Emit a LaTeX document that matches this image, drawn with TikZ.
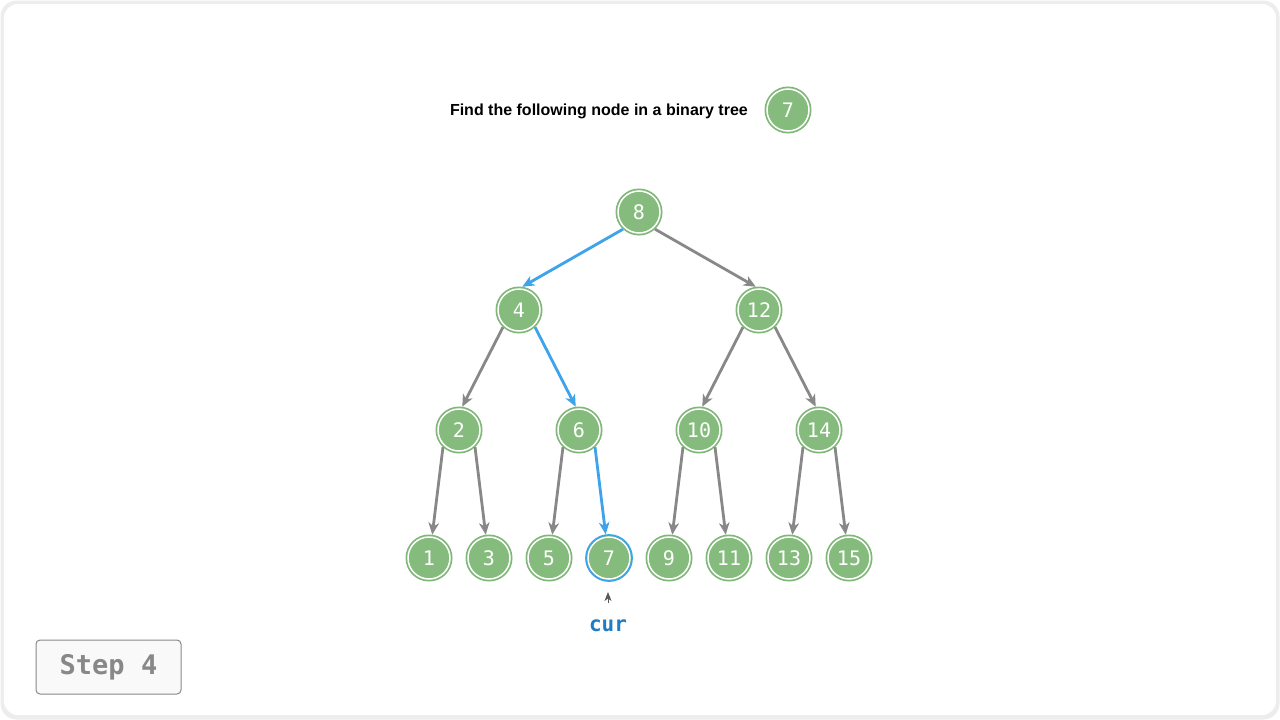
\documentclass[tikz,border=0pt]{standalone}
\usepackage{fontspec}
\setmainfont{Liberation Sans}
\newfontfamily\monofont{DejaVu Sans Mono}
\usetikzlibrary{arrows.meta}
\definecolor{ngreen}{HTML}{86BB7E}
\definecolor{nborder}{HTML}{7DB775}
\definecolor{egray}{HTML}{888888}
\definecolor{eblue}{HTML}{3DA3EA}
\definecolor{curblue}{HTML}{1F7DC4}
\tikzset{
  tnode/.style={circle, minimum size=46pt, inner sep=0pt, fill=ngreen, draw=nborder, line width=1pt,
    text=white, font=\monofont\fontsize{20}{20}\selectfont,
    path picture={\draw[white, line width=1.5pt] (path picture bounding box.center) circle[radius=21pt];}},
  hlnode/.style={tnode, draw=eblue, line width=1.8pt},
  edge/.style={draw=egray, line width=2.8pt, -{Stealth[length=12pt, width=10.5pt, inset=3.5pt]}},
  hledge/.style={edge, draw=eblue},
}
\begin{document}
\begin{tikzpicture}[x=1pt,y=-1pt]
\useasboundingbox (0,0) rectangle (1280,720);
\fill[gray!14, rounded corners=16pt] (0.5,0.5) rectangle (1279.5,719.5);
\fill[white, rounded corners=14pt] (4,4) rectangle (1276,715);

\node[anchor=east, inner sep=0pt, font=\bfseries\fontsize{16}{16}\selectfont] (title) at (748,111) {Find the following node in a binary tree};
\node[tnode] (target) at (788,110) {7};

\node[tnode] (n8) at (639,212) {8};
\node[tnode] (n4) at (519,310) {4};
\node[tnode] (n12) at (759,310) {12};
\node[tnode] (n2) at (459,430) {2};
\node[tnode] (n6) at (579,430) {6};
\node[tnode] (n10) at (699,430) {10};
\node[tnode] (n14) at (819,430) {14};
\node[tnode] (n1) at (429,558) {1};
\node[tnode] (n3) at (489,558) {3};
\node[tnode] (n5) at (549,558) {5};
\node[hlnode] (n7) at (609,558) {7};
\node[tnode] (n9) at (669,558) {9};
\node[tnode] (n11) at (729,558) {11};
\node[tnode] (n13) at (789,558) {13};
\node[tnode] (n15) at (849,558) {15};

\draw[hledge] (n8.-133) -- (n4.82);
\draw[edge] (n8.-47) -- (n12.98);
\draw[edge] (n4.-133) -- (n2.82);
\draw[hledge] (n4.-47) -- (n6.98);
\draw[edge] (n12.-133) -- (n10.82);
\draw[edge] (n12.-47) -- (n14.98);
\draw[edge] (n2.-133) -- (n1.82);
\draw[edge] (n2.-47) -- (n3.98);
\draw[edge] (n6.-133) -- (n5.82);
\draw[hledge] (n6.-47) -- (n7.98);
\draw[edge] (n10.-133) -- (n9.82);
\draw[edge] (n10.-47) -- (n11.98);
\draw[edge] (n14.-133) -- (n13.82);
\draw[edge] (n14.-47) -- (n15.98);

\node[font=\monofont\bfseries\fontsize{21}{21}\selectfont, text=curblue] (cur) at (608,626) {cur};
\coordinate (curtail) at (608,603);
\coordinate (curtip) at (608,592);
\draw[draw=gray!70!black, line width=1pt, -{Stealth[length=9pt, width=7pt, inset=2.5pt]}] (curtail) -- (curtip);

\node[draw=egray, fill=gray!5, rounded corners=4pt, line width=1pt, minimum width=145pt, minimum height=54pt,
  text=egray, font=\monofont\bfseries\fontsize{27}{27}\selectfont] (step) at (108.5,667) {Step 4};
\end{tikzpicture}
\end{document}
